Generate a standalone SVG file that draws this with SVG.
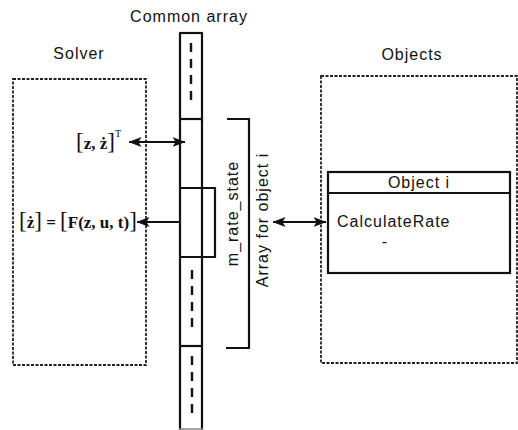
<svg xmlns="http://www.w3.org/2000/svg" width="518" height="430" viewBox="0 0 518 430">
<defs>
<style>
.lbl{font-family:"Liberation Sans",Arial,sans-serif;font-size:16px;letter-spacing:1px;fill:#111}
.math{font-family:"Liberation Serif","Times New Roman",serif;font-weight:bold;fill:#111}
.dot{fill:none;stroke:#222;stroke-width:1.8;stroke-dasharray:3 1.5}
.solid{fill:none;stroke:#111;stroke-width:2.2}
.dash{fill:none;stroke:#111;stroke-width:2.4;stroke-dasharray:9 7}
.conn{fill:none;stroke:#111;stroke-width:2.2}
</style>
<marker id="ah" viewBox="0 0 13 10" refX="12.5" refY="5" markerWidth="13" markerHeight="10" markerUnits="userSpaceOnUse" orient="auto-start-reverse">
<path d="M0,0 L13,5 L0,10 L3,5 z" fill="#111"/>
</marker>
</defs>
<rect width="518" height="430" fill="#fff"/>

<g id="solver">
<rect class="dot" x="13" y="79" width="133" height="286"/>
<text class="lbl" x="79" y="59" text-anchor="middle">Solver</text>
<text class="math" x="76" y="149" font-size="17"><tspan font-size="23" font-weight="normal">[</tspan>z, ż<tspan font-size="23" font-weight="normal">]</tspan><tspan font-size="10" font-weight="normal" dy="-12">T</tspan></text>
<text class="math" x="19" y="228" font-size="17"><tspan font-size="23" font-weight="normal">[</tspan>ż<tspan font-size="23" font-weight="normal">]</tspan> = <tspan font-size="23" font-weight="normal">[</tspan>F(z, u, t)<tspan font-size="23" font-weight="normal">]</tspan></text>
</g>

<g id="common-array">
<text class="lbl" x="189" y="22" text-anchor="middle">Common array</text>
<line class="solid" x1="180" y1="33" x2="180" y2="430"/>
<line class="solid" x1="202" y1="33" x2="202" y2="430"/>
<line class="solid" x1="179" y1="33" x2="203" y2="33"/>
<line class="solid" x1="179" y1="119" x2="203" y2="119"/>
<line class="solid" x1="179" y1="346" x2="203" y2="346"/>
<line stroke="#888" stroke-width="1.5" x1="179" y1="429" x2="203" y2="429"/>
<line class="dash" x1="191" y1="43" x2="191" y2="103"/>
<line class="dash" x1="192" y1="270" x2="192" y2="330"/>
<line class="dash" x1="192" y1="356" x2="192" y2="416"/>
</g>

<g id="m-rate-state">
<path class="solid" d="M180,188 H215 V257 H180"/>
<line x1="180" y1="257" x2="203" y2="257" stroke="#111" stroke-width="1.8" stroke-dasharray="3 1"/>
<path class="solid" d="M227,119 H249 V348 H226"/>
<text class="lbl" transform="translate(238,213.5) rotate(-90)" text-anchor="middle">m_rate_state</text>
<text class="lbl" transform="translate(268,220) rotate(-90)" text-anchor="middle">Array for object i</text>
</g>

<g id="objects">
<rect class="dot" x="321" y="76" width="196" height="287"/>
<text class="lbl" x="412" y="60" text-anchor="middle">Objects</text>
</g>

<g id="object-i">
<rect class="solid" x="328" y="172" width="182" height="101"/>
<line class="solid" x1="328" y1="193" x2="510" y2="193"/>
<text class="lbl" x="419" y="188" text-anchor="middle">Object i</text>
<text class="lbl" x="337" y="227" letter-spacing="0.5">CalculateRate</text>
<text class="lbl" x="385" y="247" text-anchor="middle">-</text>
</g>

<g id="connectors">
<line class="conn" x1="129" y1="142" x2="185" y2="142" marker-start="url(#ah)" marker-end="url(#ah)"/>
<line class="conn" x1="180" y1="222" x2="137" y2="222" marker-end="url(#ah)"/>
<line class="conn" x1="273" y1="222" x2="326" y2="222" marker-start="url(#ah)" marker-end="url(#ah)"/>
</g>
</svg>
